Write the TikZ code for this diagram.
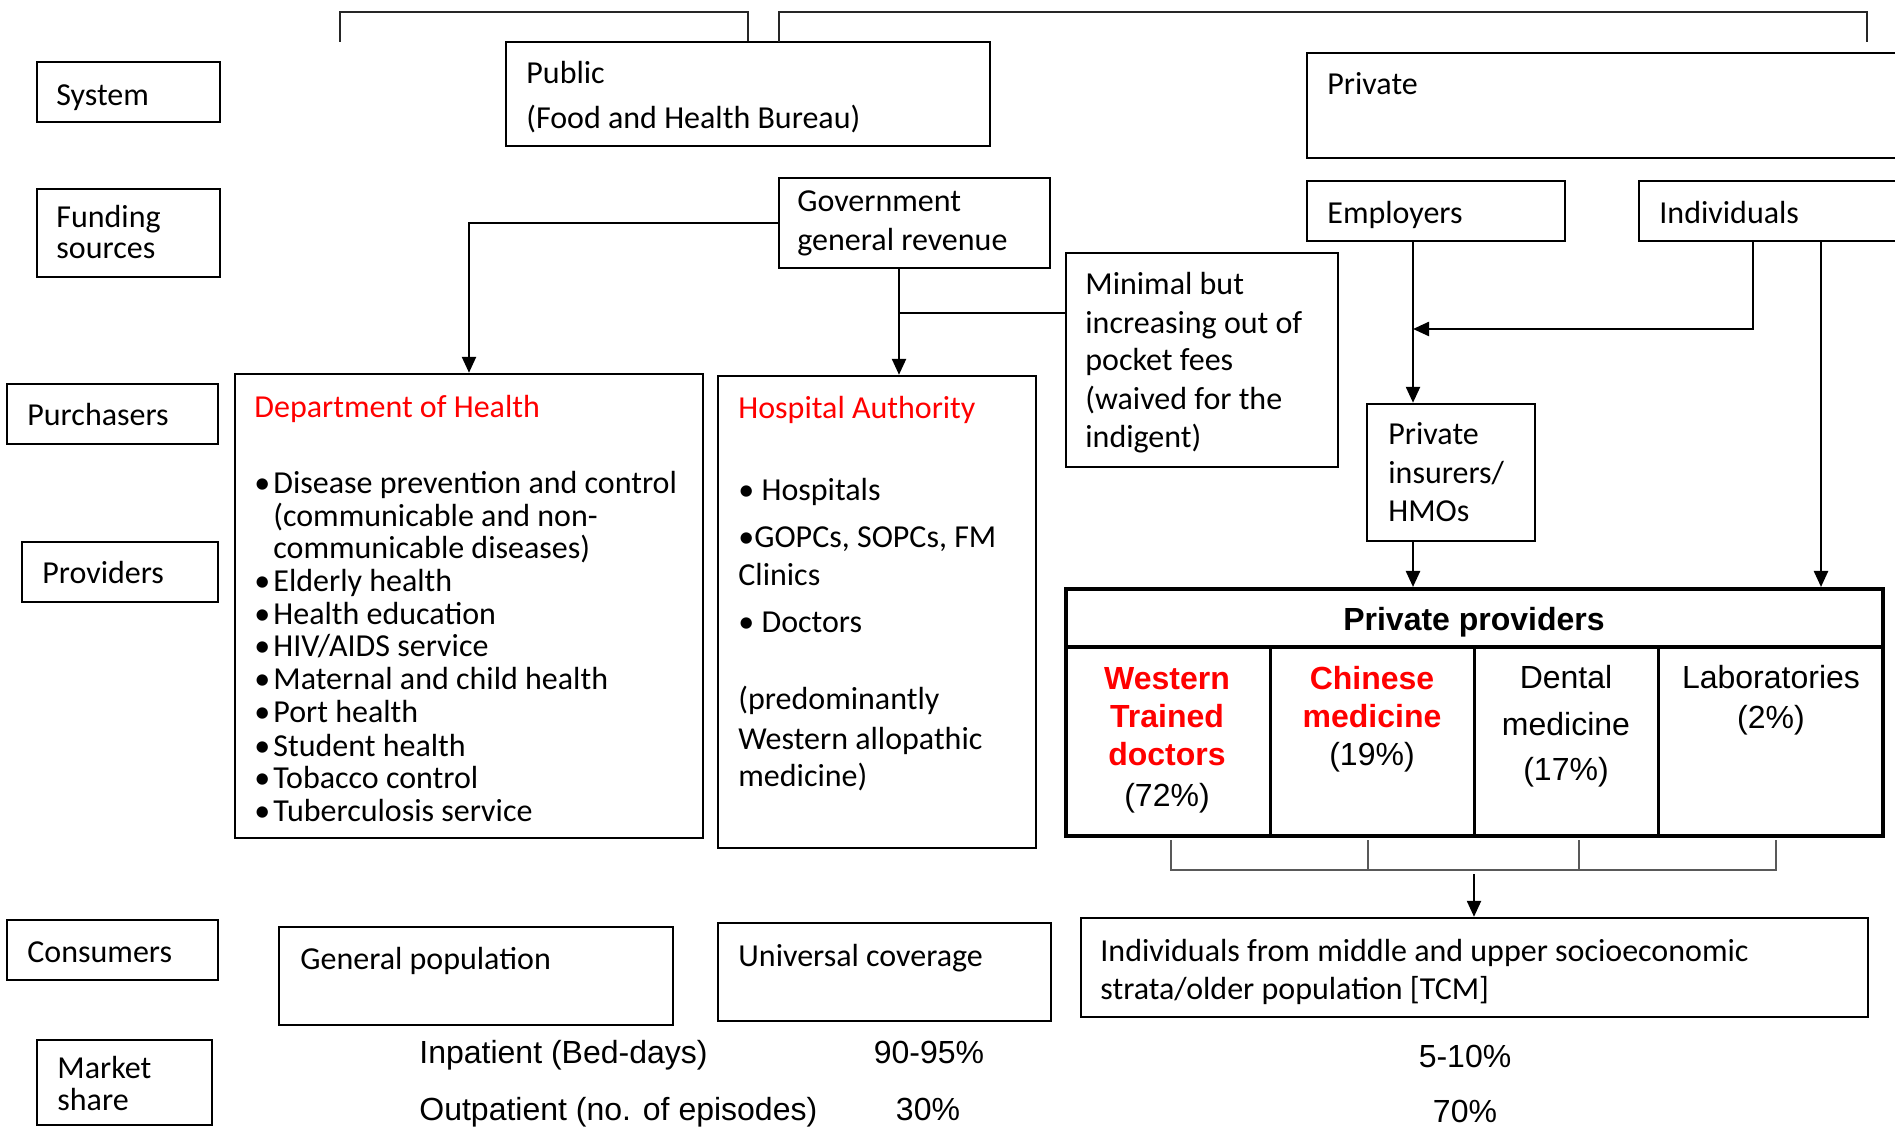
\documentclass[tikz,border=0pt]{standalone}
\usepackage{fontspec}
\setmainfont{Carlito}
\newfontfamily\arialf{Liberation Sans}
\usetikzlibrary{arrows.meta,fit}
\definecolor{hkred}{RGB}{255,0,0}
\begin{document}
\begin{tikzpicture}[x=0.5pt,y=-0.5pt,
 box/.style={draw, line width=1.2pt, inner sep=0pt},
 tl/.style={anchor=base west, inner sep=0pt, yshift=-1pt, font=\fontsize{16}{19}\selectfont},
 tc/.style={anchor=base, inner sep=0pt, font=\arialf\fontsize{16}{19}\selectfont},
 tcl/.style={anchor=base west, inner sep=0pt, font=\arialf\fontsize{16}{19}\selectfont},
 tcb/.style={anchor=base, inner sep=0pt, font=\arialf\bfseries\fontsize{16}{19}\selectfont},
 redtxt/.style={text=hkred},
 con/.style={line width=1.2pt},
 arr/.style={line width=1.2pt, -{Triangle[length=8pt,width=7pt]}},
 brk/.style={line width=1pt, black!85},
 brace/.style={line width=1pt, black!65},
]
\useasboundingbox (0,0) rectangle (1895,1127);

% ---------- left row labels ----------
\node[box, fit={(37,62)(220,122)}] (sysbox) {};
\node[tl] (systxt) at (56,104) {System};
\node[box, fit={(37,189)(220,277)}] (fundbox) {};
\node[tl] (fundtxt1) at (56,226) {Funding};
\node[tl] (fundtxt2) at (56,257) {sources};
\node[box, fit={(7,384)(218,444)}] (purbox) {};
\node[tl] (purtxt) at (27,424) {Purchasers};
\node[box, fit={(22,542)(218,602)}] (provbox) {};
\node[tl] (provtxt) at (42,582) {Providers};
\node[box, fit={(7,920)(218,980)}] (consbox) {};
\node[tl] (constxt) at (27,960) {Consumers};
\node[box, fit={(37,1040)(212,1125)}] (mktbox) {};
\node[tl] (mkttxt1) at (57,1076) {Market};
\node[tl] (mkttxt2) at (57,1108) {share};

% ---------- system ----------
\node[box, fit={(506,42)(990,146)}] (pub) {};
\node[tl] (pubtxt1) at (526,82) {Public};
\node[tl] (pubtxt2) at (526,127) {(Food and Health Bureau)};
\node[box, fit={(1307,53)(1905,158)}] (priv) {};
\node[tl] (privtxt) at (1327,93) {Private};

\coordinate (b1l) at (340,42);
\draw[brk] (b1l) -- ++(0,-30) -| (pub.north);
\coordinate (b2l) at (779,42);
\coordinate (b2r) at (1867,42);
\draw[brk] (b2l) -- ++(0,-30) -| (b2r);

% ---------- funding ----------
\node[box, fit={(779,178)(1050,268)}] (gov) {};
\node[tl] (govtxt1) at (797,210) {Government};
\node[tl] (govtxt2) at (797,249) {general revenue};
\node[box, fit={(1307,181)(1565,241)}] (emp) {};
\node[tl] (emptxt) at (1327,222) {Employers};
\node[box, fit={(1639,181)(1905,241)}] (ind) {};
\node[tl] (indtxt) at (1659,222) {Individuals};
\node[box, fit={(1066,253)(1338,467)}] (mini) {};
\node[tl] (minitxt1) at (1085,293) {Minimal but};
\node[tl] (minitxt2) at (1085,332) {increasing out of};
\node[tl] (minitxt3) at (1085,369) {pocket fees};
\node[tl] (minitxt4) at (1085,408) {(waived for the};
\node[tl] (minitxt5) at (1085,446) {indigent)};
\node[box, fit={(1367,404)(1535,541)}] (ins) {};
\node[tl] (instxt1) at (1388,443) {Private};
\node[tl] (instxt2) at (1388,482) {insurers/};
\node[tl] (instxt3) at (1388,520) {HMOs};

% ---------- purchasers / providers ----------
\node[box, fit={(235,374)(703,838)}] (doh) {};
\node[tl, redtxt] (dohtitle) at (254,416) {Department of Health};
\node[tl] (dohb1) at (254,492) {•};
\node[tl] (doh1) at (273,492) {Disease prevention and control};
\node[tl] (doh1b) at (273,525) {(communicable and non-};
\node[tl] (doh1c) at (273,557) {communicable diseases)};
\node[tl] (dohb2) at (254,590) {•};
\node[tl] (doh2) at (273,590) {Elderly health};
\node[tl] (dohb3) at (254,623) {•};
\node[tl] (doh3) at (273,623) {Health education};
\node[tl] (dohb4) at (254,655) {•};
\node[tl] (doh4) at (273,655) {HIV/AIDS service};
\node[tl] (dohb5) at (254,688) {•};
\node[tl] (doh5) at (273,688) {Maternal and child health};
\node[tl] (dohb6) at (254,721) {•};
\node[tl] (doh6) at (273,721) {Port health};
\node[tl] (dohb7) at (254,754) {•};
\node[tl] (doh7) at (273,754) {Student health};
\node[tl] (dohb8) at (254,786) {•};
\node[tl] (doh8) at (273,786) {Tobacco control};
\node[tl] (dohb9) at (254,819) {•};
\node[tl] (doh9) at (273,819) {Tuberculosis service};

\node[box, fit={(718,376)(1036,848)}] (ha) {};
\node[tl, redtxt] (hatitle) at (738,417) {Hospital Authority};
\node[tl] (ha1) at (738,499) {• Hospitals};
\node[tl] (ha2) at (738,546) {•GOPCs, SOPCs, FM};
\node[tl] (ha2b) at (738,584) {Clinics};
\node[tl] (ha3) at (738,631) {• Doctors};
\node[tl] (ha4) at (738,708) {(predominantly};
\node[tl] (ha4b) at (738,747) {Western allopathic};
\node[tl] (ha4c) at (738,784) {medicine)};

% ---------- private providers ----------
\node[draw, line width=2pt, inner sep=0pt, fit={(1066,589)(1883,836)}] (pp) {};
\coordinate (hd) at (1066,647);
\draw[line width=2pt] (hd) -- (hd -| pp.east);
\coordinate (cA) at (1270,647);
\coordinate (cB) at (1474,647);
\coordinate (cC) at (1658,647);
\draw[line width=1.5pt] (cA) -- (cA |- pp.south);
\draw[line width=1.5pt] (cB) -- (cB |- pp.south);
\draw[line width=1.5pt] (cC) -- (cC |- pp.south);
\node[tcb] (pptitle) at (1474,631) {Private providers};
\node[tcb, redtxt] (w1) at (1167,690) {Western};
\node[tcb, redtxt] (w2) at (1167,728) {Trained};
\node[tcb, redtxt] (w3) at (1167,766) {doctors};
\node[tc] (w4) at (1167,806) {(72\%)};
\node[tcb, redtxt] (c1) at (1372,690) {Chinese};
\node[tcb, redtxt] (c2) at (1372,728) {medicine};
\node[tc] (c3) at (1372,765) {(19\%)};
\node[tc] (d1) at (1566,689) {Dental};
\node[tc] (d2) at (1566,736) {medicine};
\node[tc] (d3) at (1566,781) {(17\%)};
\node[tc] (l1) at (1771,689) {Laboratories};
\node[tc] (l2) at (1771,729) {(2\%)};

% ---------- consumers ----------
\node[box, fit={(279,927)(673,1025)}] (genpop) {};
\node[tl] (genpoptxt) at (300,967) {General population};
\node[box, fit={(718,923)(1051,1021)}] (univ) {};
\node[tl] (univtxt) at (738,964) {Universal coverage};
\node[box, fit={(1081,918)(1868,1017)}] (pc) {};
\node[tl] (pctxt1) at (1100,959) {Individuals from middle and upper socioeconomic};
\node[tl] (pctxt2) at (1100,997) {strata/older population [TCM]};

% ---------- market share ----------
\node[tcl] (inp) at (419,1063) {Inpatient (Bed-days)};
\node[tc] (inppub) at (929,1063) {90-95\%};
\node[tcl] (outp) at (419,1120) {Outpatient (no. of episodes)};
\node[tc] (outppub) at (928,1120) {30\%};
\node[tc] (inppriv) at (1465,1067) {5-10\%};
\node[tc] (outppriv) at (1465,1122) {70\%};

% ---------- connectors ----------
\draw[arr] (gov.west) -| (doh.north);
\coordinate (govdown) at (899,268);
\draw[arr] (govdown) -- (govdown |- ha.north);
\coordinate (jn) at (899,313);
\draw[con] (jn) -- (jn -| mini.west);
\coordinate (empdown) at (1413,241);
\draw[arr] (empdown) -- (empdown |- ins.north);
\coordinate (ind1) at (1753,241);
\coordinate (merge) at (1413,329);
\draw[arr] (ind1) |- (merge);
\coordinate (ind2) at (1821,241);
\draw[arr] (ind2) -- (ind2 |- pp.north);
\draw[arr] (empdown |- ins.south) -- (empdown |- pp.north);

\coordinate (r1) at (1171,840);
\coordinate (r2) at (1368,840);
\coordinate (r3) at (1579,840);
\coordinate (r4) at (1776,840);
\draw[brace] (r1) -- ++(0,30) -| (r4);
\draw[brace] (r2) -- ++(0,30);
\draw[brace] (r3) -- ++(0,30);
\coordinate (brarr) at (1474,874);
\draw[arr] (brarr) -- (brarr |- pc.north);
\end{tikzpicture}
\end{document}
